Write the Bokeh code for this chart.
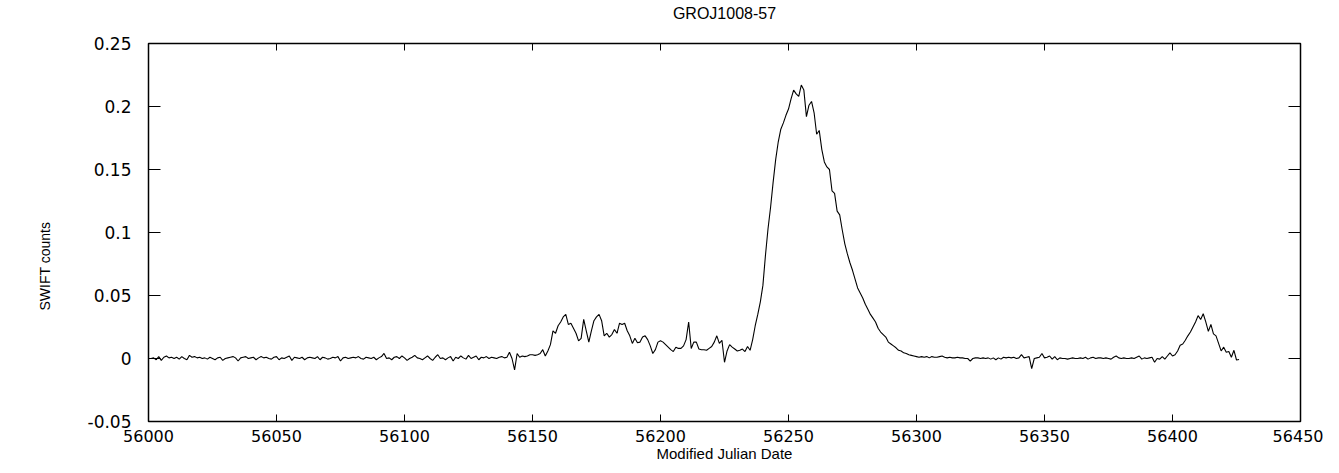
import math
from bokeh.plotting import figure
from bokeh.models import FixedTicker, Range1d, LinearAxis, Title
from bokeh.embed import file_html
from bokeh.resources import INLINE

# ---- data (SWIFT daily counts, GROJ1008-57) ----
start_mjd = 56001

quiet_early = [  # MJD 56001-56140
    0.0, 0.0005, -0.001, 0.0015, -0.0015, 0.001, 0.002, 0.0005, 0.001, 0.0,
    0.001, -0.0005, 0.0015, 0.0, -0.001, 0.0025, 0.001, 0.0015, 0.0005, 0.001,
    0.0, 0.0005, -0.0005, 0.001, 0.0, -0.001, 0.0005, 0.001, -0.0015, 0.0,
    0.0005, 0.001, 0.0015, 0.0005, -0.002, 0.0005, 0.001, 0.0015, 0.0, 0.0005,
    0.001, -0.001, 0.0005, 0.0015, 0.0005, 0.001, 0.0, -0.0005, 0.001, 0.0015,
    -0.001, 0.0005, 0.0, 0.001, 0.002, -0.0015, 0.001, 0.0005, 0.0, 0.001,
    -0.001, 0.0005, 0.001, 0.0005, 0.0, 0.0015, -0.001, 0.001, 0.0005, -0.0005,
    0.0, 0.001, 0.0005, 0.0015, -0.002, 0.0005, 0.001, 0.0, 0.0005, 0.001,
    0.0005, 0.0015, 0.0, -0.0005, 0.001, 0.0005, 0.0, 0.001, -0.001, 0.0005,
    0.0015, 0.004, 0.0, 0.0005, -0.001, 0.001, 0.0015, 0.0, 0.002, 0.0005,
    -0.0015, 0.0, 0.001, 0.0025, 0.0005, 0.0, -0.001, 0.0005, 0.002, 0.0,
    -0.0015, 0.001, 0.003, 0.0, 0.0005, -0.001, 0.0005, 0.0015, -0.002, 0.001,
    0.0, 0.002, 0.0005, -0.0005, 0.0025, 0.0, 0.001, 0.002, -0.001, 0.001,
    0.0005, 0.0015, 0.0, 0.001, 0.0005, 0.0, 0.001, 0.0015, 0.0005, 0.001,
]

activity = [  # MJD 56141-56235
    0.005, 0.0, -0.009, 0.004, 0.001, 0.002, 0.0015, 0.002, 0.003, 0.003,
    0.0025, 0.003, 0.004, 0.007, 0.002, 0.006, 0.011, 0.022, 0.020, 0.026,
    0.029, 0.033, 0.035, 0.027, 0.028, 0.024, 0.020, 0.014, 0.016, 0.031,
    0.022, 0.013, 0.022, 0.030, 0.033, 0.035, 0.030, 0.018, 0.020, 0.017,
    0.019, 0.023, 0.020, 0.028, 0.027, 0.028, 0.022, 0.018, 0.012, 0.016,
    0.0125, 0.013, 0.017, 0.018, 0.015, 0.010, 0.004, 0.007, 0.013, 0.014,
    0.013, 0.011, 0.009, 0.007, 0.0055, 0.009, 0.008, 0.008, 0.010, 0.015,
    0.029, 0.008, 0.013, 0.013, 0.0075, 0.007, 0.007, 0.0065, 0.008, 0.0095,
    0.013, 0.018, 0.012, 0.0145, -0.003, 0.006, 0.011, 0.009, 0.0075, 0.006,
    0.0065, 0.0075, 0.0055, 0.0095, 0.0065,
]

outburst = [  # MJD 56236-56300
    0.015, 0.026, 0.035, 0.045, 0.058,
    0.082, 0.103, 0.120, 0.140, 0.158, 0.172, 0.182, 0.187, 0.193, 0.198,
    0.206, 0.213, 0.210, 0.208, 0.217, 0.213, 0.192, 0.201, 0.204, 0.195,
    0.178, 0.181, 0.166, 0.156, 0.152, 0.150, 0.133, 0.131, 0.117, 0.114,
    0.102, 0.091, 0.083, 0.076, 0.070, 0.063, 0.056, 0.052, 0.048, 0.043,
    0.039, 0.035, 0.032, 0.029, 0.024, 0.021, 0.019, 0.017, 0.013, 0.0115,
    0.010, 0.0085, 0.0065, 0.006, 0.0045, 0.004, 0.003, 0.0025, 0.002, 0.0015,
]

quiet_late = [  # MJD 56301-56426
    0.001, 0.0015, 0.001, 0.0015, 0.0005, 0.0015, 0.001, 0.001, 0.0015, 0.002,
    0.001, 0.0005, 0.001, 0.0005, 0.0005, 0.001, 0.0005, 0.0005, 0.0, 0.0,
    -0.002, 0.0, 0.0005, 0.0005, 0.0, 0.0005, 0.0, 0.0005, -0.0005, 0.0005,
    -0.001, 0.0005, -0.0005, 0.001, 0.0005, 0.001, 0.0005, 0.001, 0.0, 0.0005,
    0.003, 0.0005, 0.001, 0.0015, -0.008, 0.0, 0.0005, 0.001, 0.004, 0.0005,
    0.001, 0.002, -0.0005, 0.0015, -0.001, 0.0005, 0.0, 0.0, -0.0005, 0.0,
    0.0005, 0.0, 0.0, 0.0005, 0.0, 0.001, -0.0005, 0.0005, 0.001, 0.0,
    0.0005, 0.0005, 0.0, 0.0005, 0.0, -0.0005, 0.001, 0.002, 0.0005, 0.0,
    0.0005, 0.0, 0.0, 0.0005, 0.0, 0.001, 0.002, -0.0005, 0.0005, 0.0,
    0.0005, 0.001, -0.003, 0.0, -0.0005, 0.0015, -0.0005, 0.002, 0.0045, 0.002,
    0.003, 0.006, 0.0105, 0.0115, 0.0145, 0.018, 0.021, 0.025, 0.029, 0.034,
    0.031, 0.0355, 0.029, 0.0215, 0.027, 0.0195, 0.018, 0.012, 0.006, 0.009,
    0.005, 0.0055, 0.001, 0.0065, -0.0012, -0.0008,
]

x_ticks = [56000, 56050, 56100, 56150, 56200, 56250, 56300, 56350, 56400, 56450]
y_ticks = [-0.05, 0, 0.05, 0.1, 0.15, 0.2, 0.25]
y_tick_labels = {-0.05: "-0.05", 0: "0", 0.05: "0.05", 0.1: "0.1",
                 0.15: "0.15", 0.2: "0.2", 0.25: "0.25"}
x_min, x_max = 56000, 56450
y_min, y_max = -0.05, 0.25

subtitle_text = "GROJ1008-57"
x_label_text = "Modified Julian Date"
y_label_text = "SWIFT counts"

counts = quiet_early + activity + outburst + quiet_late
mjd = [start_mjd + i for i in range(len(counts))]

# ---- figure ----
p = figure(width=1323, height=465,
           x_range=Range1d(x_min, x_max), y_range=Range1d(y_min, y_max),
           output_backend="svg", toolbar_location=None,
           min_border_left=148, min_border_right=23,
           min_border_top=43, min_border_bottom=44,
           background_fill_color="white", border_fill_color="white")

p.outline_line_color = "black"
p.outline_line_width = 1.5
p.grid.visible = False

p.line(mjd, counts, line_color="black", line_width=1.1)

# mirrored (inward) ticks on the top and right edges of the frame
p.scatter(x=x_ticks, y=[y_max] * len(x_ticks), marker="dash", size=14,
          angle=math.pi / 2, line_color="black", line_width=1)
p.scatter(x=[x_max] * len(y_ticks), y=y_ticks, marker="dash", size=24,
          line_color="black", line_width=1)

tick_font = "DejaVu Sans"
label_font = "Liberation Sans"

xa = p.xaxis[0]
xa.ticker = FixedTicker(ticks=x_ticks)
xa.axis_line_color = None
xa.major_tick_in = 7
xa.major_tick_out = 0
xa.minor_tick_line_color = None
xa.major_tick_line_color = "black"
xa.major_label_standoff = 8
xa.major_label_text_font = tick_font
xa.major_label_text_font_size = "16px"
xa.major_label_text_color = "black"
xa.axis_label = x_label_text
xa.axis_label_text_font = label_font
xa.axis_label_text_font_size = "15px"
xa.axis_label_text_font_style = "normal"
xa.axis_label_text_color = "black"
xa.axis_label_standoff = 0

ya = p.yaxis[0]
ya.ticker = FixedTicker(ticks=y_ticks)
ya.major_label_overrides = y_tick_labels
ya.axis_line_color = None
ya.major_tick_in = 12
ya.major_tick_out = 0
ya.minor_tick_line_color = None
ya.major_tick_line_color = "black"
ya.major_label_standoff = 17
ya.major_label_text_font = tick_font
ya.major_label_text_font_size = "17px"
ya.major_label_text_color = "black"

# subtitle as the label of a tick-less axis above the frame
top_axis = LinearAxis(ticker=FixedTicker(ticks=[]), axis_line_color=None,
                      major_tick_in=0, major_tick_out=0, minor_tick_line_color=None,
                      major_label_standoff=0,
                      axis_label=subtitle_text, axis_label_standoff=22,
                      axis_label_text_font=label_font, axis_label_text_font_size="16px",
                      axis_label_text_font_style="normal", axis_label_text_color="black")
p.add_layout(top_axis, "above")

# y-axis title, shifted up from the frame's bottom
p.add_layout(Title(text=y_label_text, align="left", offset=111, standoff=60,
                   vertical_align="top",
                   text_font=label_font, text_font_size="14px",
                   text_font_style="normal", text_color="black"), "left")

open("out.html", "w").write(file_html(p, INLINE))
